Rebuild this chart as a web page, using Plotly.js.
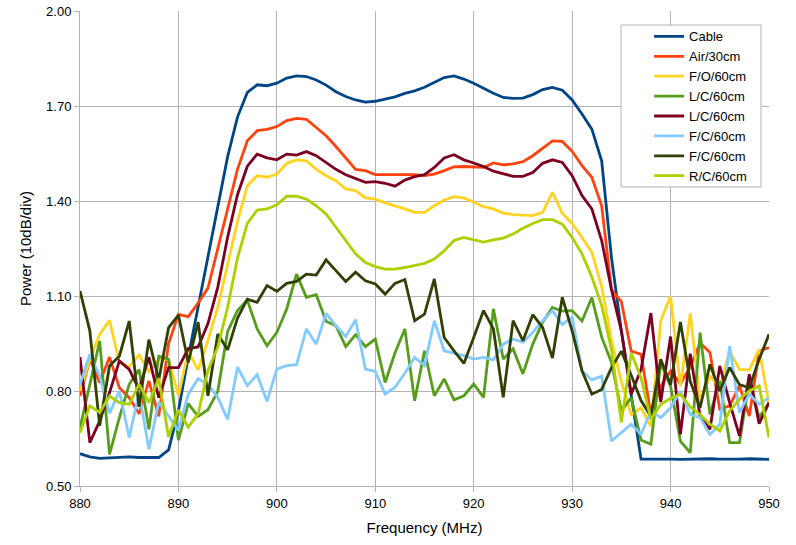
<!DOCTYPE html>
<html>
<head>
<meta charset="utf-8">
<script src="https://cdn.plot.ly/plotly-3.0.1.min.js"></script>
<style>
  html, body { margin: 0; padding: 0; background: #fff; }
  #chart { width: 796px; height: 545px; }
</style>
</head>
<body>
<div id="chart"></div>
<script>
// frequency axis, 1 MHz steps
const freq = []
for (let f = 880; f <= 950; f++) freq.push(f)

const seriesNames = ['Cable', 'Air/30cm', 'F/O/60cm', 'L/C/60cm', 'L/C/60cm', 'F/C/60cm', 'F/C/60cm', 'R/C/60cm']
const seriesColors = ['#004586', '#ff420e', '#ffd320', '#579d1c', '#7e0021', '#83caff', '#314004', '#aecf00']

const cable = [
  0.602, 0.592, 0.587, 0.589, 0.589, 0.592, 0.590, 0.589, 0.590, 0.614,
  0.738, 0.907, 1.065, 1.220, 1.385, 1.540, 1.665, 1.743, 1.767, 1.764,
  1.772, 1.788, 1.795, 1.793, 1.782, 1.766, 1.745, 1.730, 1.719, 1.712,
  1.715, 1.722, 1.729, 1.740, 1.748, 1.759, 1.775, 1.790, 1.795, 1.785,
  1.772, 1.756, 1.740, 1.727, 1.724, 1.725, 1.736, 1.752, 1.759, 1.750,
  1.719, 1.675, 1.627, 1.527, 1.220, 0.990, 0.780, 0.585, 0.585, 0.586,
  0.585, 0.584, 0.585, 0.585, 0.586, 0.585, 0.584, 0.585, 0.586, 0.585,
  0.584
]
const air30 = [
  0.784, 0.900, 0.826, 0.907, 0.810, 0.779, 0.728, 0.832, 0.720, 0.950,
  1.042, 1.035, 1.078, 1.125, 1.250, 1.380, 1.500, 1.590, 1.622, 1.626,
  1.635, 1.654, 1.661, 1.658, 1.633, 1.606, 1.572, 1.536, 1.500, 1.496,
  1.483, 1.483, 1.483, 1.483, 1.483, 1.480, 1.485, 1.496, 1.508, 1.509,
  1.508, 1.506, 1.520, 1.514, 1.517, 1.524, 1.543, 1.567, 1.590, 1.588,
  1.557, 1.512, 1.475, 1.385, 1.120, 1.082, 0.926, 0.916, 0.726, 0.815,
  0.863, 0.823, 0.876, 0.952, 0.922, 0.743, 0.753, 0.816, 0.721, 0.926,
  0.937
]
const fo60 = [
  0.800, 0.900, 0.979, 1.023, 0.890, 0.876, 0.914, 0.861, 0.900, 0.900,
  0.785, 0.925, 0.866, 0.960, 1.065, 1.200, 1.335, 1.448, 1.480, 1.475,
  1.485, 1.519, 1.530, 1.527, 1.500, 1.480, 1.464, 1.438, 1.433, 1.410,
  1.406, 1.394, 1.385, 1.375, 1.364, 1.364, 1.385, 1.403, 1.414, 1.410,
  1.396, 1.382, 1.375, 1.362, 1.357, 1.356, 1.354, 1.364, 1.427, 1.361,
  1.329, 1.285, 1.238, 1.130, 0.960, 0.830, 0.726, 0.747, 0.688, 1.022,
  1.100, 0.815, 1.045, 0.768, 0.847, 0.812, 0.926, 0.868, 0.866, 0.932,
  0.758
]
const lcGreen = [
  0.684, 0.826, 0.958, 0.600, 0.716, 0.821, 0.868, 0.679, 0.910, 0.900,
  0.645, 0.760, 0.720, 0.741, 0.799, 0.988, 1.054, 1.087, 0.996, 0.943,
  0.985, 1.059, 1.169, 1.096, 1.104, 1.020, 1.006, 0.940, 0.978, 0.940,
  0.964, 0.827, 0.920, 0.996, 0.769, 0.927, 0.785, 0.838, 0.772, 0.785,
  0.822, 0.780, 1.059, 0.901, 0.933, 0.854, 0.948, 1.017, 1.064, 1.052,
  1.054, 1.021, 1.095, 0.970, 0.890, 0.737, 0.779, 0.645, 0.632, 0.889,
  0.815, 0.642, 0.605, 0.984, 0.726, 0.832, 0.637, 0.637, 0.832, 0.716,
  0.763
]
const lcRed = [
  0.907, 0.637, 0.705, 0.795, 0.895, 0.868, 0.805, 0.907, 0.779, 0.874,
  0.874, 0.934, 0.939, 1.013, 1.128, 1.286, 1.420, 1.510, 1.548, 1.536,
  1.530, 1.548, 1.545, 1.556, 1.543, 1.522, 1.500, 1.483, 1.470, 1.459,
  1.461, 1.456, 1.447, 1.466, 1.477, 1.483, 1.506, 1.536, 1.546, 1.530,
  1.520, 1.509, 1.494, 1.485, 1.478, 1.478, 1.490, 1.519, 1.530, 1.522,
  1.480, 1.417, 1.375, 1.275, 1.120, 0.990, 0.790, 0.868, 1.046, 0.765,
  0.972, 0.663, 0.918, 0.720, 0.679, 0.879, 0.763, 0.658, 0.853, 0.697,
  0.763
]
const fcBlue = [
  0.820, 0.916, 0.847, 0.730, 0.800, 0.653, 0.795, 0.616, 0.765, 0.720,
  0.676, 0.790, 0.839, 0.820, 0.780, 0.710, 0.875, 0.817, 0.852, 0.767,
  0.869, 0.880, 0.883, 0.996, 0.948, 1.045, 1.006, 0.972, 1.025, 0.869,
  0.862, 0.790, 0.812, 0.856, 0.906, 0.880, 1.022, 0.927, 0.920, 0.912,
  0.901, 0.906, 0.898, 0.948, 0.964, 0.954, 0.985, 1.022, 1.054, 1.010,
  1.033, 0.864, 0.835, 0.847, 0.642, 0.668, 0.695, 0.663, 0.737, 0.716,
  0.747, 0.800, 0.726, 0.716, 0.663, 0.695, 0.942, 0.732, 0.790, 0.758,
  0.779
]
const fcOlive = [
  1.116, 0.990, 0.690, 0.880, 0.910, 1.021, 0.750, 0.962, 0.835, 1.000,
  1.040, 0.890, 1.017, 0.785, 0.980, 0.930, 1.030, 1.090, 1.080, 1.133,
  1.115, 1.140, 1.146, 1.169, 1.166, 1.214, 1.180, 1.146, 1.175, 1.148,
  1.138, 1.106, 1.140, 1.152, 1.022, 1.043, 1.154, 0.969, 0.927, 0.887,
  0.969, 1.054, 0.996, 0.780, 1.022, 0.959, 1.041, 1.001, 0.904, 1.096,
  0.990, 0.864, 0.790, 0.805, 0.874, 0.926, 0.850, 0.770, 0.720, 0.900,
  0.820, 1.018, 0.830, 0.747, 0.884, 0.800, 0.874, 0.820, 0.810, 0.900,
  0.979
]
const rc60 = [
  0.668, 0.753, 0.732, 0.784, 0.763, 0.758, 0.821, 0.763, 0.840, 0.655,
  0.740, 0.686, 0.728, 0.865, 0.939, 1.065, 1.220, 1.329, 1.371, 1.375,
  1.388, 1.415, 1.415, 1.406, 1.385, 1.359, 1.317, 1.275, 1.233, 1.206,
  1.193, 1.185, 1.185, 1.190, 1.196, 1.203, 1.217, 1.243, 1.275, 1.285,
  1.277, 1.270, 1.277, 1.283, 1.296, 1.314, 1.329, 1.341, 1.341, 1.327,
  1.285, 1.233, 1.160, 1.070, 0.930, 0.700, 0.920, 0.842, 0.710, 0.758,
  0.777, 0.790, 0.750, 0.726, 0.695, 0.674, 0.737, 0.774, 0.800, 0.816,
  0.653
]

const yTicks = [0.5, 0.8, 1.1, 1.4, 1.7, 2.0]
const xTicks = [880, 890, 900, 910, 920, 930, 940, 950]

const allSeries = [cable, air30, fo60, lcGreen, lcRed, fcBlue, fcOlive, rc60]

const data = allSeries.map((vals, i) => ({
  x: freq,
  y: vals,
  type: 'scatter',
  mode: 'lines',
  name: seriesNames[i],
  line: { color: seriesColors[i], width: 2.8 },
  hoverinfo: 'skip'
}))

const gridGray = '#b3b3b3'
const layout = {
  width: 796,
  height: 545,
  margin: { l: 80, r: 27, t: 11, b: 59 },
  paper_bgcolor: '#ffffff',
  plot_bgcolor: '#ffffff',
  font: { family: 'Liberation Sans, Arial, sans-serif', size: 13, color: '#000' },
  showlegend: true,
  legend: {
    x: 0.826,
    y: 0.978,
    xanchor: 'left',
    yanchor: 'top',
    bgcolor: 'rgba(0,0,0,0)',
    borderwidth: 0,
    font: { size: 13, color: '#000' }
  },
  // legend frame, a bit wider than plotly's own box
  shapes: [{
    type: 'rect', xref: 'paper', yref: 'paper',
    x0: 0.7852, x1: 0.9884, y0: 0.6295, y1: 0.9705,
    fillcolor: '#ffffff',
    line: { color: gridGray, width: 1 },
    layer: 'above'
  }],
  xaxis: {
    range: [880, 950],
    tickvals: xTicks,
    ticks: 'outside',
    ticklen: 5,
    tickcolor: gridGray,
    showgrid: true,
    gridcolor: gridGray,
    gridwidth: 1,
    zeroline: false,
    showline: true,
    linecolor: gridGray,
    tickfont: { size: 13 },
    title: { text: 'Frequency (MHz)', font: { size: 15 }, standoff: 12 }
  },
  yaxis: {
    range: [0.5, 2.0],
    tickvals: yTicks,
    tickformat: '.2f',
    ticks: 'outside',
    ticklen: 5,
    tickcolor: gridGray,
    showgrid: true,
    gridcolor: gridGray,
    gridwidth: 1,
    zeroline: false,
    showline: true,
    linecolor: gridGray,
    tickfont: { size: 13 },
    title: { text: 'Power (10dB/div)', font: { size: 15 }, standoff: 10 }
  }
}

Plotly.newPlot('chart', data, layout, { displayModeBar: false, staticPlot: true })
</script>
</body>
</html>
